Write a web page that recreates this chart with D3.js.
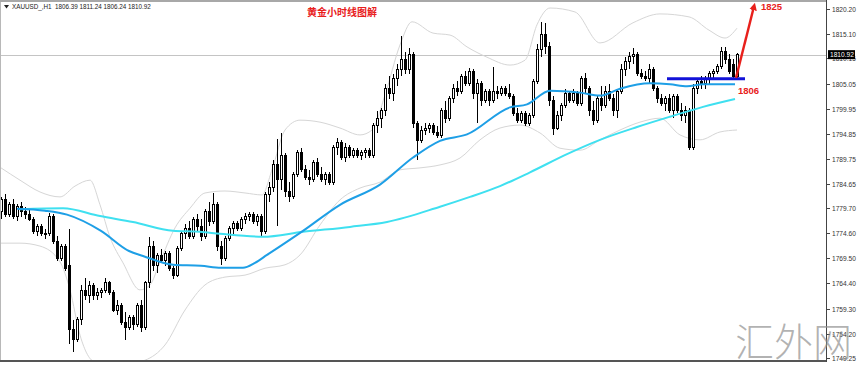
<!DOCTYPE html>
<html lang="zh">
<head>
<meta charset="UTF-8">
<title>XAUUSD H1</title>
<script src="https://d3js.org/d3.v7.min.js"></script>
<style>
  body { margin: 0; padding: 0; background: #fff; }
  svg { display: block; }
</style>
</head>
<body>
<svg id="chart" width="863" height="365"></svg>
<script>
// hourly candles, [open, high, low, close]
const candles = [
  [1779,1782,1777.5,1781.5],[1781.5,1782.5,1778,1778.5],[1778.5,1781,1778,1780.5],[1780.5,1781.5,1777.5,1778],
  [1778,1780.5,1777,1780],[1780,1781,1778,1779],[1779,1780,1777.5,1778.5],[1778.5,1779.5,1777,1777.5],
  [1777.5,1778,1774.5,1775],[1775,1776.5,1774,1776],[1776,1776.5,1774,1774.5],[1774.5,1775.5,1773.5,1774.5],
  [1774.5,1778.8,1774,1778],[1778,1778.5,1772.5,1773],[1773,1774,1769,1769.5],[1769.5,1772.5,1769,1772],
  [1772,1772.5,1767,1767.5],[1768,1775.5,1752,1755],[1755,1757,1750.5,1753],[1753,1757.5,1752.5,1757],
  [1757,1764,1756,1763],[1763,1765.5,1761,1762],[1762,1765,1760.5,1764],[1764,1764.5,1761,1762],
  [1762,1763.5,1761,1762.5],[1762.5,1763.5,1761.5,1763],[1763,1765.5,1762.5,1764.5],[1764.5,1765,1762,1762.5],
  [1762.5,1763,1758.5,1759],[1759,1761,1758,1760],[1760,1760.5,1756,1756.5],[1756.5,1758.5,1753,1755.5],
  [1755.5,1758,1755,1757.5],[1757.5,1758,1755,1756],[1756,1760.5,1755.5,1760],[1760,1761,1754.5,1755.5],
  [1755.5,1765,1755,1764.5],[1764.5,1773.8,1763.5,1772],[1772,1773,1767,1768],[1768,1770.5,1766.5,1770],
  [1770,1771.5,1768.5,1769],[1769,1771,1768,1770.5],[1770.5,1771,1767,1767.5],[1767.5,1768,1765.3,1766],
  [1766,1772,1765.8,1771.5],[1771.5,1775,1771,1774.5],[1774.5,1776.5,1773.5,1775.5],[1775.5,1777,1773.5,1774],
  [1774,1778,1773.5,1777.5],[1777.5,1778.5,1775,1776],[1776,1777.5,1773,1774],[1774,1779.5,1773.5,1779],
  [1779,1781,1776,1777],[1777,1782.8,1776.5,1780.5],[1780.5,1781,1771,1772],[1772,1773,1768.2,1769.5],
  [1769.5,1774,1769,1773.5],[1773.5,1776,1773,1775.5],[1775.5,1777,1774.5,1776.5],[1776.5,1777,1775,1775.5],
  [1775.5,1778,1775,1777.5],[1777.5,1778.8,1776.5,1778],[1778,1779,1777,1778.5],[1778.5,1779,1776.5,1777],
  [1777,1778.5,1776,1778],[1778,1778.5,1773.8,1775],[1775,1783,1774.5,1782.5],[1782.5,1785,1781,1784],
  [1784,1789.5,1783,1788.5],[1788.5,1793.8,1776,1785.5],[1785.5,1795,1783.5,1790.5],[1790.5,1791,1782,1783],
  [1783,1785,1781,1782],[1782,1787,1781.5,1786.5],[1786.5,1791.5,1786,1791],[1791,1792,1787,1787.5],
  [1787.5,1788.5,1785.5,1786],[1786,1787.5,1784.5,1785.5],[1785.5,1789.5,1785,1789],[1789,1790,1786,1786.5],
  [1786.5,1788,1785,1785.5],[1785.5,1787,1784.5,1786.5],[1786.5,1787,1784.5,1785],[1785,1792.5,1784.5,1792],
  [1792,1794,1790.5,1793],[1793,1793.5,1789.5,1790],[1790,1793,1789,1792],[1792,1792.5,1790,1790.5],
  [1790.5,1792,1790,1791.5],[1791.5,1792,1790,1790.5],[1790.5,1791.5,1789.5,1791],[1791,1792,1790,1791.5],
  [1791.5,1792,1790,1790.5],[1790.5,1797,1790,1796.5],[1796.5,1799.5,1795,1798],[1798,1800,1796,1799.5],
  [1799.5,1805,1798.5,1804],[1804,1806.5,1802,1803],[1803,1807,1801.5,1806],[1806,1809,1804.5,1808],
  [1808,1814.8,1806.5,1810],[1810,1811.5,1807,1808],[1808,1812.3,1807,1811],[1811,1811.5,1796,1797],
  [1797,1797.5,1789.5,1793.5],[1793.5,1796.5,1793,1795.5],[1795.5,1797,1794.5,1796],[1796,1797,1795,1796.5],
  [1796.5,1797,1794.5,1795],[1795,1796.5,1794,1794.5],[1794.5,1800,1794,1799.5],[1799.5,1801.5,1797,1798],
  [1798,1802.5,1797.5,1802],[1802,1805,1801,1804],[1804,1805.5,1802.5,1803.5],[1803.5,1807,1803,1806.5],
  [1806.5,1807.5,1804.5,1805],[1805,1808.2,1804.5,1807.5],[1807.5,1808,1802,1803],[1803,1806,1797,1805],
  [1805,1805.5,1800.5,1801.5],[1801.5,1804,1801,1803.5],[1803.5,1804,1800.5,1801.5],[1801.5,1808.4,1801,1803.5],
  [1803.5,1804.5,1802,1803],[1803,1804.5,1802.5,1804],[1804,1804.5,1802.5,1803],[1803,1805,1802,1802.5],
  [1802.5,1803,1798.5,1799],[1799,1800,1797,1797.5],[1797.5,1799.5,1797,1799],[1799,1799.5,1796.5,1797],
  [1797,1799,1796.5,1798.5],[1798.5,1806,1798,1805.5],[1805.5,1813,1805,1812],[1812,1817.5,1810.5,1815],
  [1815,1817.4,1811,1812.5],[1812.5,1813.5,1800.5,1801.5],[1801.5,1802.5,1794.5,1796],[1796,1799.5,1795.5,1798.5],
  [1798.5,1801,1797.5,1800.5],[1800.5,1804,1800,1803],[1803,1803.5,1801,1801.5],[1801.5,1804,1801,1803],
  [1803,1803.5,1800.5,1801],[1801,1806.5,1800.5,1806],[1806,1807.2,1803,1804],[1804,1804.5,1798.5,1799.5],
  [1799.5,1801.5,1796.6,1797.5],[1797.5,1802.5,1797,1802],[1802,1804.5,1799.5,1800.5],[1800.5,1804.5,1800,1803.5],
  [1803.5,1805,1801.5,1802],[1802,1803,1798.5,1799.5],[1799.5,1804,1798,1803.5],[1803.5,1809,1803,1808],
  [1808,1810.5,1806.5,1809.5],[1809.5,1811.5,1808,1810.5],[1810.5,1812.3,1809,1811],[1811,1811.5,1806.5,1807],
  [1807,1808,1806,1806.5],[1806.5,1807.5,1805.5,1806],[1806,1809,1805,1808],[1808,1808.5,1803.5,1804],
  [1804,1804.5,1801,1802],[1802,1803,1800.5,1801],[1801,1802.5,1799.5,1802],[1802,1803,1799,1799.5],
  [1799.5,1803,1798,1802.5],[1802.5,1803,1799,1799.5],[1799.5,1801,1797.5,1798.5],[1798.5,1800.5,1797,1799.5],
  [1799.5,1800,1791.5,1792],[1792,1805,1791.5,1804],[1804,1806,1803,1805.5],[1805.5,1806.5,1804,1805],
  [1805,1806.5,1804,1806],[1806,1807.5,1805,1807],[1807,1808,1806,1807.5],[1807.5,1809,1807,1808.5],
  [1808.5,1812.5,1808,1811.5],[1811.5,1812.5,1809,1810],[1810,1811,1807,1807.5],[1809,1810,1806.2,1806.39],
  [1806.39,1811.24,1806.24,1810.92]
];

// moving averages, [bar index, price]
const maFast = [
  [4,1779.6],[11,1779.2],[16.5,1778.4],[25,1775.1],[32,1771],[35.5,1770],[43,1768.2],[50,1768],
  [55,1767.6],[60.5,1767.6],[63.5,1768.6],[66.5,1770.2],[75.5,1775.1],[84.75,1780.4],[94.75,1784.5],
  [103,1790],[109.75,1793.4],[116.5,1794.7],[127.25,1800.2],[131.5,1800.8],[137.25,1803.6],[144.75,1803.2],
  [149.75,1802.6],[154.75,1804],[162.25,1805.1],[167.25,1804.9],[171.5,1804.5],[175.5,1804.9],[183.5,1804.9]
];
const maSlow = [
  [4.75,1779.5],[15.5,1779.7],[24.75,1778.1],[33,1776.9],[43,1775.1],[49.75,1774.9],[54.75,1774.5],
  [65.5,1773.9],[75.5,1774.9],[87.25,1775.9],[96.5,1776.9],[109.75,1780],[117.25,1782],[124.75,1784.2],
  [132.25,1787],[141.5,1790.7],[149.75,1793.6],[159,1796.2],[167.25,1798.3],[175.5,1800.3],[183.5,1801.9]
];

// bollinger bands, [bar index, price]
const bandUpper = [
  [0,1787.9],[4.75,1785.4],[9.75,1783],[14.75,1782],[18.5,1784.2],[22.25,1785.4],[24.75,1780.4],
  [27.25,1773.8],[30.5,1768.6],[34.75,1763.1],[37.25,1764.1],[39.75,1768.8],[43.5,1775.7],[47.25,1779.7],
  [51,1782.8],[56,1783.2],[61,1782.8],[65.25,1782.4],[67.75,1787.5],[71,1795.6],[74.75,1797.6],
  [79.75,1797.2],[84.75,1796],[89.75,1794.6],[92.75,1795.6],[96,1802.7],[99.75,1812.9],[102.75,1817.6],
  [108,1815.3],[112.25,1814.9],[116.5,1812.5],[121.5,1810.4],[127.25,1808.8],[131,1809.8],[134,1817],
  [137.25,1820.4],[143.5,1819.6],[149.75,1813.3],[158,1817.4],[164.75,1819.2],[172,1818.6],[177,1815.9],
  [181,1814.3],[184,1816.3]
];
const bandLower = [
  [0,1772.6],[4.75,1772.6],[9.75,1772],[14.75,1768.8],[17.25,1763.1],[19.75,1753.9],[23.5,1748.4],
  [29.75,1747.8],[36,1748.8],[41,1751.9],[46,1759],[51,1764.1],[56,1765.7],[61,1766.1],[66,1767.5],
  [71,1768.2],[74.75,1770.2],[79.75,1776.3],[84.75,1781.4],[89.75,1783.8],[94.75,1785],[99.75,1787.5],
  [104.75,1787.9],[109.75,1788.5],[114.75,1789.9],[119.75,1793.6],[124.75,1796],[129.75,1796.6],
  [134.75,1795],[139.75,1791.9],[144.75,1791.5],[149.75,1793.6],[154.75,1795.6],[159.75,1797.2],
  [164.75,1798],[169.75,1794.6],[174.75,1793.6],[179.75,1795.2],[184,1795.6]
];

const priceTicks = [1820.20, 1815.10, 1810.15, 1805.05, 1799.95, 1794.85, 1789.75, 1784.65,
                    1779.70, 1774.60, 1769.50, 1764.40, 1759.30, 1754.20, 1749.25];
const lastPrice = 1810.92;
const supportLevel = 1806;
const targetLevel = 1825;
const symbolLine = "XAUUSD_,H1  1806.39 1811.24 1806.24 1810.92";
const titleText = "黄金小时线图解";

const W = 863, H = 365, plotRight = 826, plotTop = 2, plotBottom = 361;
const svg = d3.select("#chart");
const sans = "Liberation Sans, Arial, sans-serif";
const red = "#e8201c";

const x = d3.scaleLinear().domain([0, candles.length - 1]).range([1, 737]);
const y = d3.scaleLinear().domain([1749.25, 1820.20]).range([358, 9]);

const defs = svg.append("defs");
defs.append("clipPath").attr("id", "plot")
  .append("rect").attr("x", 0).attr("y", plotTop).attr("width", plotRight).attr("height", plotBottom - plotTop);

const plot = svg.append("g").attr("clip-path", "url(#plot)");

// current price line
plot.append("line")
  .attr("x1", 0).attr("x2", plotRight)
  .attr("y1", Math.round(y(lastPrice)) + 0.5).attr("y2", Math.round(y(lastPrice)) + 0.5)
  .attr("stroke", "#c4c4c4").attr("stroke-width", 1);

// bollinger bands
const curve = d3.line().x(d => x(d[0])).y(d => y(d[1])).curve(d3.curveMonotoneX);
[bandUpper, bandLower].forEach(b => {
  plot.append("path").attr("d", curve(b))
    .attr("fill", "none").attr("stroke", "#d6d6d6").attr("stroke-width", 1);
});

// candles
const cg = plot.append("g").attr("shape-rendering", "crispEdges");
candles.forEach((c, i) => {
  const cx = Math.round(x(i));
  const [o, h, l, cl] = c;
  cg.append("line")
    .attr("x1", cx + 0.5).attr("x2", cx + 0.5)
    .attr("y1", y(h)).attr("y2", y(l))
    .attr("stroke", "#000").attr("stroke-width", 1);
  const top = y(Math.max(o, cl)), bot = y(Math.min(o, cl));
  cg.append("rect")
    .attr("x", cx - 0.5).attr("y", top)
    .attr("width", 2).attr("height", Math.max(1, bot - top))
    .attr("fill", cl >= o ? "#fff" : "#000")
    .attr("stroke", "#000").attr("stroke-width", 1);
});

// moving averages
plot.append("path").attr("d", curve(maSlow))
  .attr("fill", "none").attr("stroke", "#3fe0f0").attr("stroke-width", 2);
plot.append("path").attr("d", curve(maFast))
  .attr("fill", "none").attr("stroke", "#1e9fe6").attr("stroke-width", 2);

// support line
plot.append("line")
  .attr("x1", 667).attr("x2", 745)
  .attr("y1", y(supportLevel)).attr("y2", y(supportLevel))
  .attr("stroke", "#1212d8").attr("stroke-width", 3);

// frame
svg.append("line").attr("x1", 0).attr("x2", plotRight).attr("y1", 1).attr("y2", 1)
  .attr("stroke", "#a8a8a8").attr("stroke-width", 2);
svg.append("line").attr("x1", 0.5).attr("x2", 0.5).attr("y1", 2).attr("y2", plotBottom)
  .attr("stroke", "#b8b8b8").attr("stroke-width", 1);
svg.append("line").attr("x1", 0).attr("x2", plotRight + 1).attr("y1", plotBottom).attr("y2", plotBottom)
  .attr("stroke", "#555").attr("stroke-width", 2);
svg.append("line").attr("x1", plotRight + 0.5).attr("x2", plotRight + 0.5).attr("y1", 0).attr("y2", plotBottom + 1)
  .attr("stroke", "#444").attr("stroke-width", 1);

// price axis
const ax = svg.append("g");
priceTicks.forEach(t => {
  const ty = Math.round(y(t)) + 0.5;
  ax.append("line").attr("x1", plotRight).attr("x2", plotRight + 4).attr("y1", ty).attr("y2", ty)
    .attr("stroke", "#444");
  ax.append("text").attr("x", 832).attr("y", ty).attr("dy", "0.35em")
    .attr("font-family", sans).attr("font-size", 6.6)
    .attr("fill", "#333").text(t.toFixed(2));
});
const ly = y(lastPrice);
svg.append("rect").attr("x", 828).attr("y", ly - 4.5).attr("width", 27).attr("height", 9).attr("fill", "#000");
svg.append("text").attr("x", 830).attr("y", ly).attr("dy", "0.35em")
  .attr("font-family", sans).attr("font-size", 6.6)
  .attr("fill", "#fff").text(lastPrice.toFixed(2));

// header
svg.append("path").attr("d", "M4,5 L9,5 L6.5,8.5 Z").attr("fill", "#222");
svg.append("text").attr("x", 12).attr("y", 9)
  .attr("font-family", sans).attr("font-size", 6.3)
  .attr("fill", "#222").attr("xml:space", "preserve").text(symbolLine);
svg.append("text").attr("x", 307).attr("y", 16)
  .attr("font-family", "Noto Sans CJK SC, sans-serif").attr("font-size", 10).attr("font-weight", "bold")
  .attr("fill", red).text(titleText);

// target arrow
const ax0 = x(candles.length - 1) - 1, ay0 = y(supportLevel) - 1;
const ax1 = 754, ay1 = y(targetLevel) + 21;
defs.append("marker").attr("id", "head")
  .attr("viewBox", "0 0 10 10").attr("refX", 5).attr("refY", 5)
  .attr("markerWidth", 3.2).attr("markerHeight", 3.2).attr("orient", "auto")
  .append("path").attr("d", "M0,0 L10,5 L0,10 Z").attr("fill", red);
svg.append("line").attr("x1", ax0).attr("y1", ay0).attr("x2", ax1).attr("y2", ay1)
  .attr("stroke", red).attr("stroke-width", 2.4).attr("marker-end", "url(#head)");

svg.append("text").attr("x", 761).attr("y", 10)
  .attr("font-family", sans).attr("font-size", 9.5).attr("font-weight", "bold")
  .attr("fill", red).text(targetLevel);
svg.append("text").attr("x", 738).attr("y", 94)
  .attr("font-family", sans).attr("font-size", 9.5).attr("font-weight", "bold")
  .attr("fill", red).text(supportLevel);

// watermark
svg.append("text").attr("x", 735).attr("y", 356)
  .attr("font-family", "Noto Sans CJK SC, sans-serif").attr("font-size", 39).attr("font-weight", 300)
  .attr("fill", "#909090").attr("fill-opacity", 0.7).text("汇外网");
</script>
</body>
</html>
